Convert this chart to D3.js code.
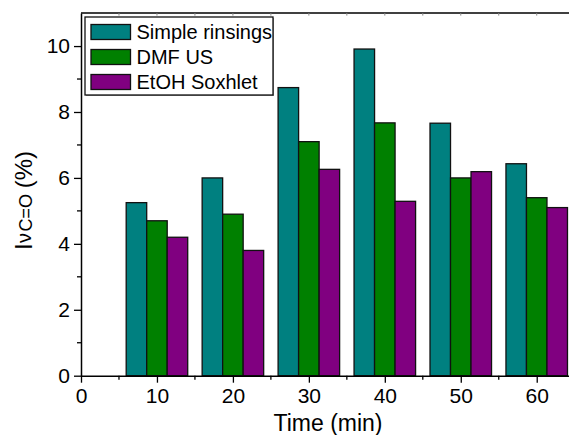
<!DOCTYPE html>
<html>
<head>
<meta charset="utf-8">
<script src="https://cdn.jsdelivr.net/npm/d3@7"></script>
<style>
  html, body { margin: 0; padding: 0; background: #fff; }
  svg { display: block; }
  text { font-family: "Liberation Sans", Arial, sans-serif; fill: #000; }
</style>
</head>
<body>
<svg id="chart" width="569" height="435"></svg>
<script>
// ---- data ----
const times = [10, 20, 30, 40, 50, 60];
const seriesNames = ["Simple rinsings", "DMF US", "EtOH Soxhlet"];
const simpleRinsings = [5.25, 6.0, 8.74, 9.91, 7.66, 6.43];
const dmfUS = [4.7, 4.9, 7.1, 7.67, 6.0, 5.4];
const etohSoxhlet = [4.2, 3.8, 6.26, 5.29, 6.19, 5.1];
const seriesColors = ["#008080", "#008000", "#800080"];
const xTicks = [0, 10, 20, 30, 40, 50, 60];
const yTicks = [0, 2, 4, 6, 8, 10];

const seriesValues = [simpleRinsings, dmfUS, etohSoxhlet];

const svg = d3.select("#chart");
const x = d3.scaleLinear().domain([0, 65]).range([81, 574.7]);
const y = d3.scaleLinear().domain([0, 11]).range([375.7, 13.1]);
const barW = 2.7; // in x units

// bars
seriesValues.forEach((vals, si) => {
  svg.append("g").selectAll("rect")
    .data(times.map((t, i) => ({ t, v: vals[i] })))
    .join("rect")
    .attr("x", d => x(d.t + (si - 1.5) * barW))
    .attr("width", d => x(d.t + (si - 0.5) * barW) - x(d.t + (si - 1.5) * barW))
    .attr("y", d => y(d.v))
    .attr("height", d => y(0) - y(d.v))
    .attr("fill", seriesColors[si])
    .attr("stroke", "#111")
    .attr("stroke-width", 1.3);
});

// bottom axis
const xAxis = d3.axisBottom(x).tickValues(xTicks).tickSize(7).tickPadding(5).tickSizeOuter(0);
const gx = svg.append("g").attr("transform", `translate(0,${y(0)})`).call(xAxis);
gx.select(".domain").attr("stroke-width", 1.5);
gx.selectAll(".tick line").attr("stroke-width", 1.3);
gx.selectAll(".tick text").attr("font-size", 21).attr("font-family", "Liberation Sans, Arial, sans-serif").attr("dy", "0.71em");
gx.append("g").selectAll("line").data(d3.range(5, 66, 10)).join("line")
  .attr("x1", d => x(d)).attr("x2", d => x(d)).attr("y1", 0).attr("y2", 4)
  .attr("stroke", "#000").attr("stroke-width", 1.3);

// left axis
const yAxis = d3.axisLeft(y).tickValues(yTicks).tickSize(7).tickPadding(4).tickSizeOuter(0);
const gy = svg.append("g").attr("transform", `translate(${x(0)},0)`).call(yAxis);
gy.select(".domain").attr("stroke-width", 1.5);
gy.selectAll(".tick line").attr("stroke-width", 1.3);
gy.selectAll(".tick text").attr("font-size", 21).attr("font-family", "Liberation Sans, Arial, sans-serif");
gy.append("g").selectAll("line").data([1, 3, 5, 7, 9]).join("line")
  .attr("y1", d => y(d)).attr("y2", d => y(d)).attr("x1", 0).attr("x2", -4)
  .attr("stroke", "#000").attr("stroke-width", 1.3);

// top axis line
const gt = svg.append("g");
gt.append("line").attr("x1", x(0)).attr("x2", 569).attr("y1", y(11)).attr("y2", y(11))
  .attr("stroke", "#000").attr("stroke-width", 1.5);
gt.selectAll("line.t").data(d3.range(5, 66, 5)).join("line").attr("class", "t")
  .attr("x1", d => x(d)).attr("x2", d => x(d)).attr("y1", y(11)).attr("y2", y(11) + 2.5)
  .attr("stroke", "#888").attr("stroke-width", 1);

// legend
const lg = svg.append("g");
lg.append("rect").attr("x", 86).attr("y", 18).attr("width", 188).attr("height", 78)
  .attr("fill", "#999");
lg.append("rect").attr("x", 85).attr("y", 17).attr("width", 188).attr("height", 78)
  .attr("fill", "#fff").attr("stroke", "#111").attr("stroke-width", 1.3);
seriesNames.forEach((name, i) => {
  lg.append("rect").attr("x", 91).attr("y", 24.5 + i * 25).attr("width", 39.5).attr("height", 15)
    .attr("fill", seriesColors[i]).attr("stroke", "#111").attr("stroke-width", 1.3);
  lg.append("text").attr("x", 136.5).attr("y", 39 + i * 25)
    .attr("font-size", 20).text(name);
});

// axis titles
svg.append("text").attr("x", 328).attr("y", 431).attr("text-anchor", "middle")
  .attr("font-size", 23).text("Time (min)");

const yt = svg.append("g").attr("transform", "translate(32,0) rotate(-90)");
yt.append("text").attr("x", -250).attr("y", 0).attr("font-size", 24).text("I");
yt.append("text").attr("x", -243).attr("y", -1).attr("font-size", 20).text("ν");
yt.append("text").attr("x", -231.5).attr("y", 0).attr("font-size", 18).text("C=O");
yt.append("text").attr("x", -151).attr("y", 0).attr("text-anchor", "end").attr("font-size", 24).text("(%)");
</script>
</body>
</html>
